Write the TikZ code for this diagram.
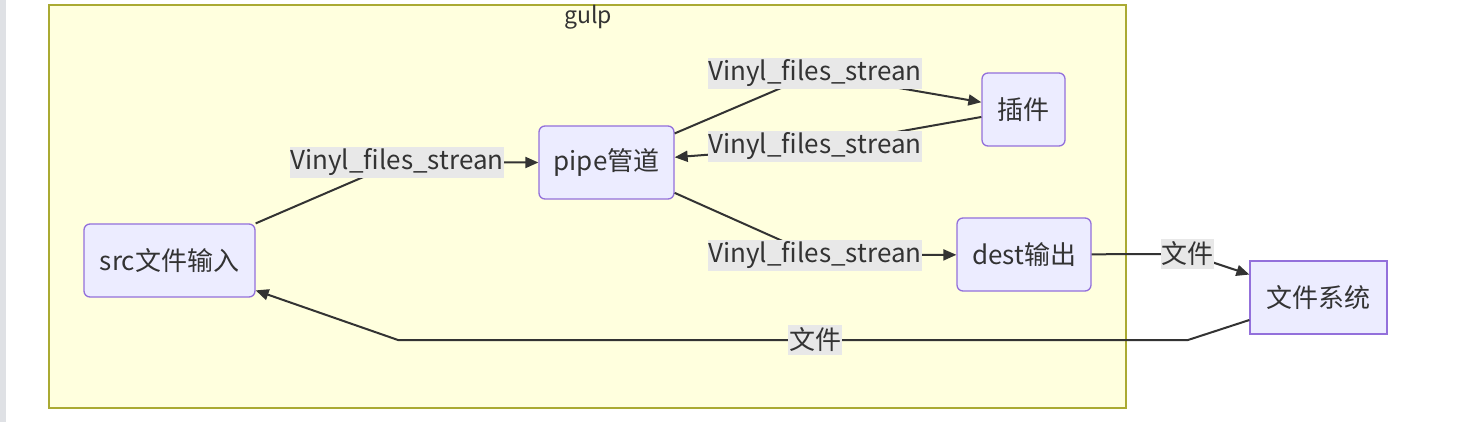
\documentclass[tikz,border=0pt]{standalone}
\usepackage{fontspec}
\setmainfont{Noto Sans CJK SC}
\usetikzlibrary{arrows.meta}
\definecolor{clfill}{HTML}{FFFFDE}
\definecolor{clline}{HTML}{AAAA33}
\definecolor{ndfill}{HTML}{ECECFF}
\definecolor{ndline}{HTML}{9370DB}
\definecolor{txt}{HTML}{333333}
\definecolor{lblbg}{HTML}{E8E8E8}
\definecolor{sidebar}{HTML}{DFE1E5}
\tikzset{
  every node/.style={text=txt},
  box/.style={draw=ndline, fill=ndfill, line width=1.3pt, rounded corners=6pt, inner sep=0pt, font=\fontsize{26}{30}\selectfont},
  sqbox/.style={draw=ndline, fill=ndfill, line width=1.3pt, inner sep=0pt, font=\fontsize{26}{30}\selectfont},
  lbl/.style={fill=lblbg, inner sep=0pt, minimum height=31pt, font=\fontsize{26}{30}\selectfont},
  edge/.style={draw=txt, line width=2pt, -{Triangle[length=13pt,width=11pt]}},
}
\begin{document}
\begin{tikzpicture}[x=1pt,y=-1pt]
\useasboundingbox (0,0) rectangle (1480,422);
\fill[sidebar] (0,0) rectangle (6,422);
\node[draw=clline, fill=clfill, line width=1.3pt, minimum width=1077pt, minimum height=403pt, inner sep=0pt] (gulp) at (587.5,206.5) {};
\node[font=\fontsize{23}{26}\selectfont, anchor=center] (gulptitle) at (588,17) {gulp};

\node[box, minimum width=171pt, minimum height=73pt] (src) at (169.5,260.5) {src文件输入};
\node[box, minimum width=135pt, minimum height=73pt] (pipe) at (606.5,162.5) {pipe管道};
\node[box, minimum width=83pt, minimum height=73pt] (plug) at (1023.5,109.5) {插件};
\node[box, minimum width=134pt, minimum height=73pt] (dest) at (1024,254.5) {dest输出};
\node[sqbox, minimum width=137pt, minimum height=73pt] (fs) at (1318.5,297.5) {文件系统};

\coordinate (c1) at (397,162.5);
\coordinate (c2) at (815,73.5);
\coordinate (c3) at (815,146.5);
\coordinate (c4) at (815,255.5);
\coordinate (c5) at (1187.5,254);
\coordinate (c6a) at (1188,340);
\coordinate (c6b) at (398,340);
\coordinate (c6) at (815,340);

\draw[edge] (src) -- (c1) -- (pipe);
\draw[edge] (pipe) -- (c2) -- (plug);
\draw[edge] (plug) -- (c3) -- (pipe);
\draw[edge] (pipe) -- (c4) -- (dest);
\draw[edge] (dest) -- (c5) -- (fs);
\draw[edge] (fs) -- (c6a) -- (c6b) -- (src);

\node[lbl, minimum width=212pt] (l1) at (c1) {Vinyl\_files\_strean};
\node[lbl, minimum width=212pt] (l2) at (c2) {Vinyl\_files\_strean};
\node[lbl, minimum width=212pt] (l3) at (c3) {Vinyl\_files\_strean};
\node[lbl, minimum width=212pt] (l4) at (c4) {Vinyl\_files\_strean};
\node[lbl, minimum width=53pt, minimum height=30pt] (l5) at (c5) {文件};
\node[lbl, minimum width=54pt, minimum height=30pt] (l6) at (c6) {文件};
\end{tikzpicture}
\end{document}
